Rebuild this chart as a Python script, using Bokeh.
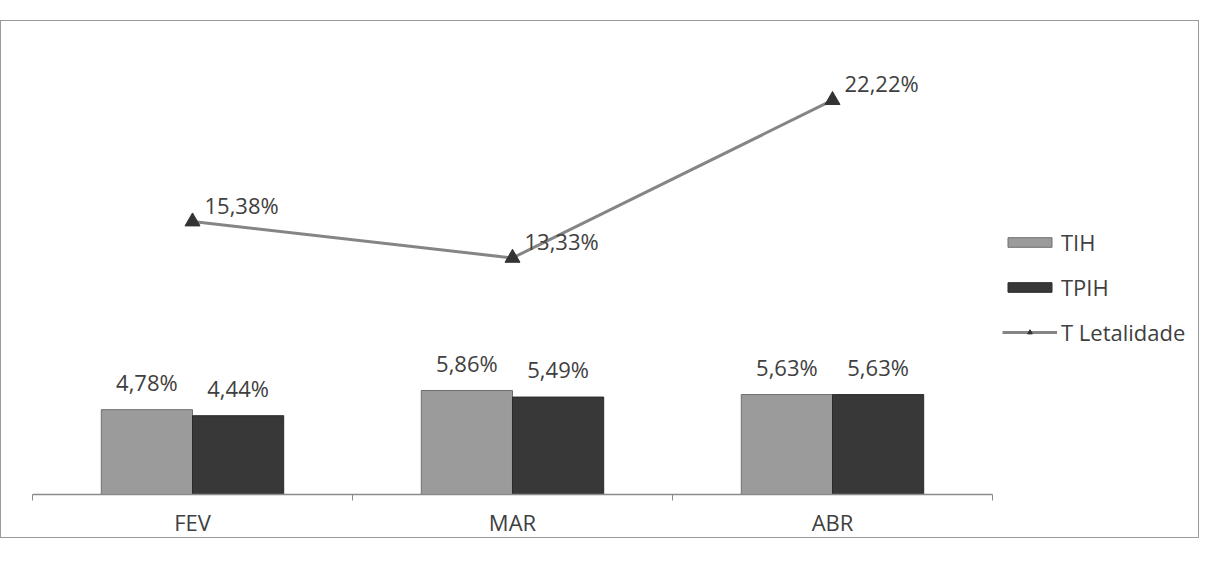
from bokeh.plotting import figure
from bokeh.models import Range1d, FixedTicker, Legend, LegendItem, ColumnDataSource
from bokeh.embed import file_html
from bokeh.resources import INLINE
from bokeh.core.properties import value
from bokeh.transform import dodge

months = ["FEV", "MAR", "ABR"]
tih = [4.78, 5.86, 5.63]
tpih = [4.44, 5.49, 5.63]
letalidade = [15.38, 13.33, 22.22]
tih_labels = ["4,78%", "5,86%", "5,63%"]
tpih_labels = ["4,44%", "5,49%", "5,63%"]
let_labels = ["15,38%", "13,33%", "22,22%"]

FONT = "Open Sans"
TXT = "#404040"
FS = "22px"

n = len(months)
xpos = [i + 0.5 for i in range(n)]
src = ColumnDataSource(dict(x=xpos, tih=tih, tpih=tpih, let=letalidade,
                            tl=tih_labels, pl=tpih_labels, ll=let_labels))

# frame spans the whole box; the category axis covers only 0..n
p = figure(width=1199, height=518, output_backend="svg", toolbar_location=None,
           x_range=Range1d(0, n * 1168 / 960), y_range=Range1d(0, 24.4),
           min_border_left=31, min_border_right=0, min_border_top=40, min_border_bottom=43)
p.styles = {"border": "1px solid #9a9a9a", "margin-top": "20px"}
p.outline_line_color = None
p.grid.visible = False
p.yaxis.visible = False

bw = 0.285
r1 = p.vbar(x=dodge("x", -bw / 2, range=p.x_range), top="tih", width=bw, source=src,
            fill_color="#9b9b9b", line_color="#6e6e6e", line_width=1)
r2 = p.vbar(x=dodge("x", bw / 2, range=p.x_range), top="tpih", width=bw, source=src,
            fill_color="#383838", line_color="#2a2a2a", line_width=1)
r3 = p.line(x="x", y="let", source=src, line_color="#858585", line_width=3)
r4 = p.scatter(x="x", y="let", source=src, marker="triangle", size=15,
               fill_color="#333333", line_color="#333333")

p.text(x=dodge("x", -bw / 2, range=p.x_range), y="tih", text="tl", source=src,
       text_align="center", text_baseline="bottom", y_offset=-13,
       text_font=value(FONT), text_font_size=FS, text_color=TXT)
p.text(x=dodge("x", bw / 2, range=p.x_range), y="tpih", text="pl", source=src,
       text_align="center", text_baseline="bottom", y_offset=-13,
       text_font=value(FONT), text_font_size=FS, text_color=TXT)
p.text(x="x", y="let", text="ll", source=src, x_offset=12, y_offset=-17,
       text_align="left", text_baseline="middle",
       text_font=value(FONT), text_font_size=FS, text_color=TXT)

ax = p.xaxis[0]
ax.bounds = (0, n)
ax.ticker = FixedTicker(ticks=xpos, minor_ticks=list(range(n + 1)))
ax.major_label_overrides = {x: m for x, m in zip(xpos, months)}
ax.major_tick_out = 0
ax.major_tick_in = 0
ax.minor_tick_out = 6
ax.minor_tick_in = 0
ax.minor_tick_line_color = "#8a8a8a"
ax.axis_line_color = "#8a8a8a"
ax.axis_line_width = 1.5
ax.major_label_standoff = 6
ax.major_label_text_font = FONT
ax.major_label_text_font_size = FS
ax.major_label_text_color = TXT

legend = Legend(items=[LegendItem(label="TIH", renderers=[r1]),
                       LegendItem(label="TPIH", renderers=[r2]),
                       LegendItem(label="T Letalidade", renderers=[r3, r4])],
                location=(970, 147), orientation="vertical")
legend.border_line_color = None
legend.background_fill_alpha = 0
legend.padding = 0
legend.margin = 0
legend.glyph_width = 55
legend.glyph_height = 12
legend.label_height = 22
legend.spacing = 15
legend.label_standoff = 4
legend.label_text_font = FONT
legend.label_text_font_size = FS
legend.label_text_color = TXT
p.add_layout(legend, "center")

open("out.html", "w").write(file_html(p, INLINE))
